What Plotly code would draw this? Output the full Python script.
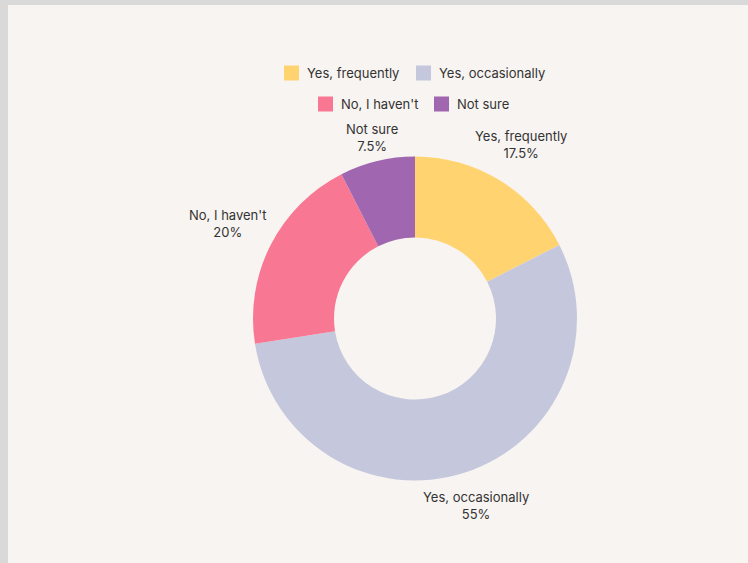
import math
import plotly.graph_objects as go

# Survey answers and their shares (percent)
labels = ["Yes, frequently", "Yes, occasionally", "No, I haven't", "Not sure"]
values = [17.5, 55, 20, 7.5]
colors = ["#FFD470", "#C5C8DD", "#F87792", "#A166B0"]

W, H = 748, 563
CX, CY = 415, 318.5        # pie centre in pixels (from top-left)
R = 162                    # outer radius in pixels
HOLE = 0.5
FONT = "Inter"
TEXT_COLOR = "#333333"
CARD = "#F8F4F1"
FRAME = "#D9D9D9"

fig = go.Figure(
    go.Pie(
        labels=labels,
        values=values,
        marker=dict(colors=colors, line=dict(width=0)),
        hole=HOLE,
        sort=False,
        direction="clockwise",
        rotation=0,
        textinfo="none",
        hoverinfo="label+percent",
        showlegend=False,
        domain=dict(
            x=[(CX - R) / W, (CX + R) / W],
            y=[(H - CY - R) / H, (H - CY + R) / H],
        ),
    )
)

annotations = []
shapes = [
    # grey frame strips around the card
    dict(type="rect", xref="paper", yref="paper", x0=0, x1=8 / W, y0=0, y1=1,
         fillcolor=FRAME, line=dict(width=0), layer="above"),
    dict(type="rect", xref="paper", yref="paper", x0=0, x1=1, y0=1 - 5 / H, y1=1,
         fillcolor=FRAME, line=dict(width=0), layer="above"),
]

# Outside slice labels, placed along each slice's mid-angle
total = sum(values)
cum = 0.0
char_w, box_h, gap = 6.6, 30, 3
for lab, val in zip(labels, values):
    mid = (cum + val / 2) / total
    cum += val
    theta = math.radians(90 - mid * 360)
    c, s = math.cos(theta), math.sin(theta)
    half_w = len(lab) * char_w / 2
    dist = R + gap + abs(c) * half_w + abs(s) * box_h / 2
    px = CX + dist * c
    py = CY - dist * s
    pct = f"{val:g}%"
    annotations.append(dict(
        x=px / W, y=1 - py / H, xref="paper", yref="paper",
        text=f"{lab}<br>{pct}", showarrow=False, align="center",
        xanchor="center", yanchor="middle",
        font=dict(family=FONT, size=13, color=TEXT_COLOR),
    ))

# Two-row centred legend
legend_rows = [(73, [0, 1], [284, 416]), (104, [2, 3], [318, 434])]
sw = 15
for y_c, idxs, xs in legend_rows:
    for i, x0 in zip(idxs, xs):
        shapes.append(dict(
            type="rect", xref="paper", yref="paper",
            x0=x0 / W, x1=(x0 + sw) / W,
            y0=1 - (y_c + sw / 2) / H, y1=1 - (y_c - sw / 2) / H,
            fillcolor=colors[i], line=dict(width=0),
        ))
        annotations.append(dict(
            x=(x0 + sw + 6) / W, y=1 - y_c / H, xref="paper", yref="paper",
            text=labels[i], showarrow=False, xanchor="left", yanchor="middle",
            font=dict(family=FONT, size=13, color=TEXT_COLOR),
        ))

fig.update_layout(
    width=W, height=H,
    margin=dict(l=0, r=0, t=0, b=0),
    paper_bgcolor=CARD,
    plot_bgcolor=CARD,
    shapes=shapes,
    annotations=annotations,
    showlegend=False,
)

fig.write_html("out.html")
